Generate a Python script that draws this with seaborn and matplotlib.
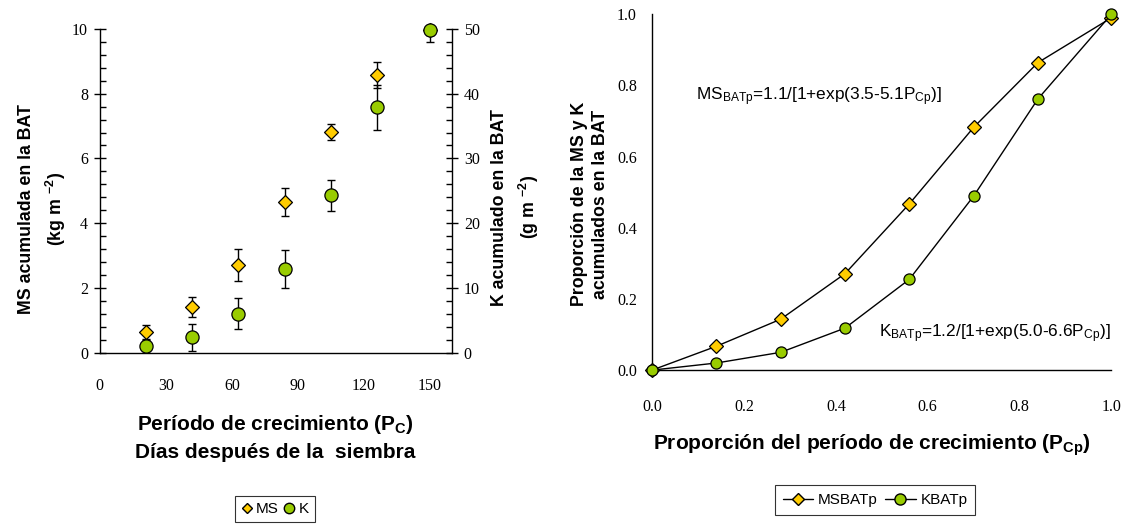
import numpy as np
import pandas as pd
import matplotlib
matplotlib.use("Agg")
import matplotlib.pyplot as plt
from matplotlib.ticker import MultipleLocator
from matplotlib.lines import Line2D
import seaborn as sns

# ---------------- data ----------------
dias = [21, 42, 63, 84, 105, 126, 150]
ms_acum = [0.65, 1.41, 2.71, 4.65, 6.81, 8.59, 9.95]
ms_err = [0.22, 0.32, 0.50, 0.43, 0.25, 0.40, 0.35]
k_acum = [1.0, 2.4, 6.0, 12.9, 24.3, 37.9, 49.9]
k_err = [1.0, 2.1, 2.4, 2.9, 2.4, 3.5, 0.8]

prop_pc = [0.0, 0.14, 0.28, 0.42, 0.56, 0.70, 0.84, 1.0]
ms_batp = [0.0, 0.067, 0.143, 0.271, 0.467, 0.682, 0.864, 0.99]
k_batp = [0.0, 0.020, 0.050, 0.118, 0.255, 0.489, 0.762, 1.0]

left_xticks = [0, 30, 60, 90, 120, 150]
right_ticks = [0.0, 0.2, 0.4, 0.6, 0.8, 1.0]

MS_COLOR = "#FFCC00"
K_COLOR = "#99CC00"

sns.set_style("white")
plt.rcParams["font.family"] = ["Liberation Sans", "DejaVu Sans"]
plt.rcParams["text.color"] = "black"
plt.rcParams["axes.labelcolor"] = "black"
plt.rcParams["mathtext.fontset"] = "custom"
plt.rcParams["mathtext.rm"] = "Liberation Sans"
plt.rcParams["mathtext.bf"] = "Liberation Sans:bold"
plt.rcParams["mathtext.it"] = "Liberation Sans:italic"

SERIF = "Liberation Serif"
TICK_FS = 11.5
LAB_FS = 12.8
XLAB_FS = 15

fig = plt.figure(figsize=(11.33, 5.25), dpi=100)

# ---------------- left chart ----------------
axL = fig.add_axes([0.088, 0.328, 0.311, 0.617])
axK = axL.twinx()

dfl = pd.DataFrame({"dias": dias, "ms": ms_acum, "ms_err": ms_err,
                    "k": k_acum, "k_err": k_err})

axL.errorbar(dfl["dias"], dfl["ms"], yerr=dfl["ms_err"], fmt="none",
             ecolor="black", elinewidth=1, capsize=3, capthick=1, zorder=2)
sns.scatterplot(data=dfl, x="dias", y="ms", ax=axL, marker="D", s=50,
                color=MS_COLOR, edgecolor="black", linewidth=0.9, zorder=3,
                clip_on=False)
axK.errorbar(dfl["dias"], dfl["k"], yerr=dfl["k_err"], fmt="none",
             ecolor="black", elinewidth=1, capsize=3, capthick=1, zorder=2)
sns.scatterplot(data=dfl, x="dias", y="k", ax=axK, marker="o", s=90,
                color=K_COLOR, edgecolor="black", linewidth=0.9, zorder=3,
                clip_on=False)

axL.set_xlim(0, 160)
axL.set_ylim(0, 10)
axK.set_ylim(0, 50)
axL.set_xticks(left_xticks)
axL.xaxis.set_minor_locator(MultipleLocator(5))
axL.yaxis.set_major_locator(MultipleLocator(2))
axL.yaxis.set_minor_locator(MultipleLocator(0.4))
axK.yaxis.set_major_locator(MultipleLocator(10))
axK.yaxis.set_minor_locator(MultipleLocator(2))

for a in (axL, axK):
    for s in a.spines.values():
        s.set_linewidth(1.0)
        s.set_color("black")
    a.spines["top"].set_visible(False)
axL.spines["right"].set_visible(False)
axK.spines["left"].set_visible(False)
axK.spines["bottom"].set_visible(False)

axL.tick_params(axis="both", which="major", direction="inout", length=9,
                width=1, colors="black", labelsize=TICK_FS)
axL.tick_params(axis="both", which="minor", direction="in", length=4,
                width=1, colors="black")
axL.tick_params(axis="x", which="major", pad=14)
axL.tick_params(axis="y", which="major", pad=4)
axK.tick_params(axis="y", which="major", direction="inout", length=9,
                width=1, colors="black", labelsize=TICK_FS, pad=4)
axK.tick_params(axis="y", which="minor", direction="in", length=4,
                width=1, colors="black")
for lab in axL.get_xticklabels() + axL.get_yticklabels() + axK.get_yticklabels():
    lab.set_fontfamily(SERIF)

axL.set_xlabel("")
axL.set_ylabel("")
axK.set_ylabel("")
fig.text(43 / 1133, 1 - 209 / 525,
         "MS acumulada en la BAT\n(kg m $^{\\mathbf{-2}}$)",
         rotation=90, ha="center", va="center", fontsize=LAB_FS,
         fontweight="bold", linespacing=1.45)
fig.text(516 / 1133, 1 - 207 / 525,
         "K acumulado en la BAT\n(g m $^{\\mathbf{-2}}$)",
         rotation=90, ha="center", va="center", fontsize=LAB_FS,
         fontweight="bold", linespacing=1.45)

fig.text(275 / 1133, 1 - 424 / 525,
         "Período de crecimiento (P$_{\\mathbf{C}}$)",
         ha="center", va="center", fontsize=XLAB_FS, fontweight="bold")
fig.text(275 / 1133, 1 - 452 / 525, "Días después de la  siembra",
         ha="center", va="center", fontsize=XLAB_FS, fontweight="bold")

hL = [Line2D([], [], linestyle="none", marker="D", markersize=5.5,
             markerfacecolor=MS_COLOR, markeredgecolor="black", label="MS"),
      Line2D([], [], linestyle="none", marker="o", markersize=7.5,
             markerfacecolor=K_COLOR, markeredgecolor="black", label="K")]
legL = fig.legend(handles=hL, loc="center", bbox_to_anchor=(275 / 1133, 1 - 509 / 525),
                  ncol=2, frameon=True, fancybox=False, fontsize=11,
                  handlelength=0.7, handletextpad=0.25, columnspacing=0.35,
                  borderpad=0.4, borderaxespad=0)
legL.get_frame().set_edgecolor("black")
legL.get_frame().set_linewidth(0.8)

# ---------------- right chart ----------------
axR = fig.add_axes([0.5755, 0.295, 0.4055, 0.678])
dfr = pd.DataFrame({"p": prop_pc, "ms": ms_batp, "k": k_batp})

sns.lineplot(data=dfr, x="p", y="ms", ax=axR, color="black", linewidth=1,
             marker="D", markersize=7, markerfacecolor=MS_COLOR,
             markeredgecolor="black", markeredgewidth=0.9, clip_on=False,
             label="MSBATp", zorder=3)
sns.lineplot(data=dfr, x="p", y="k", ax=axR, color="black", linewidth=1,
             marker="o", markersize=8, markerfacecolor=K_COLOR,
             markeredgecolor="black", markeredgewidth=0.9, clip_on=False,
             label="KBATp", zorder=4)

axR.set_xlim(0, 1)
axR.set_ylim(0, 1)
axR.set_xticks(right_ticks)
axR.set_yticks(right_ticks)
axR.set_xticklabels([f"{v:.1f}" for v in right_ticks])
axR.set_yticklabels([f"{v:.1f}" for v in right_ticks])
axR.xaxis.set_minor_locator(MultipleLocator(0.04))
axR.yaxis.set_minor_locator(MultipleLocator(0.04))
for s in axR.spines.values():
    s.set_linewidth(1.0)
    s.set_color("black")
axR.spines["top"].set_visible(False)
axR.spines["right"].set_visible(False)
axR.tick_params(axis="x", which="major", direction="out", length=7, width=1,
                colors="black", labelsize=TICK_FS, pad=14)
axR.tick_params(axis="y", which="major", direction="out", length=7, width=1,
                colors="black", labelsize=TICK_FS, pad=4)
axR.tick_params(axis="both", which="minor", direction="in", length=4,
                width=1, colors="black")
for lab in axR.get_xticklabels() + axR.get_yticklabels():
    lab.set_fontfamily(SERIF)

axR.set_xlabel("")
axR.set_ylabel("")
fig.text(872 / 1133, 1 - 445 / 525,
         "Proporción del período de crecimiento (P$_{\\mathbf{Cp}}$)",
         ha="center", va="center", fontsize=XLAB_FS, fontweight="bold")
fig.text(590 / 1133, 1 - 204 / 525,
         "Proporción de la MS y K\nacumulados en la BAT",
         rotation=90, ha="center", va="center", fontsize=LAB_FS,
         fontweight="bold", linespacing=1.25)

axR.text(0.096, 0.767, "MS$_{\\mathrm{BATp}}$=1.1/[1+exp(3.5-5.1P$_{\\mathrm{Cp}}$)]",
         fontsize=12.4, ha="left", va="center")
axR.text(0.494, 0.102, "K$_{\\mathrm{BATp}}$=1.2/[1+exp(5.0-6.6P$_{\\mathrm{Cp}}$)]",
         fontsize=12.4, ha="left", va="center")

axR.get_legend().remove()
hR = [Line2D([], [], color="black", linewidth=1, marker="D", markersize=6,
             markerfacecolor=MS_COLOR, markeredgecolor="black", label="MSBATp"),
      Line2D([], [], color="black", linewidth=1, marker="o", markersize=8,
             markerfacecolor=K_COLOR, markeredgecolor="black", label="KBATp")]
legR = fig.legend(handles=hR, loc="center", bbox_to_anchor=(875 / 1133, 1 - 500 / 525),
                  ncol=2, frameon=True, fancybox=False, fontsize=11,
                  handlelength=2.0, handletextpad=0.3, columnspacing=0.5,
                  borderpad=0.5, borderaxespad=0)
legR.get_frame().set_edgecolor("black")
legR.get_frame().set_linewidth(0.8)

fig.savefig("out.png", dpi=100)
